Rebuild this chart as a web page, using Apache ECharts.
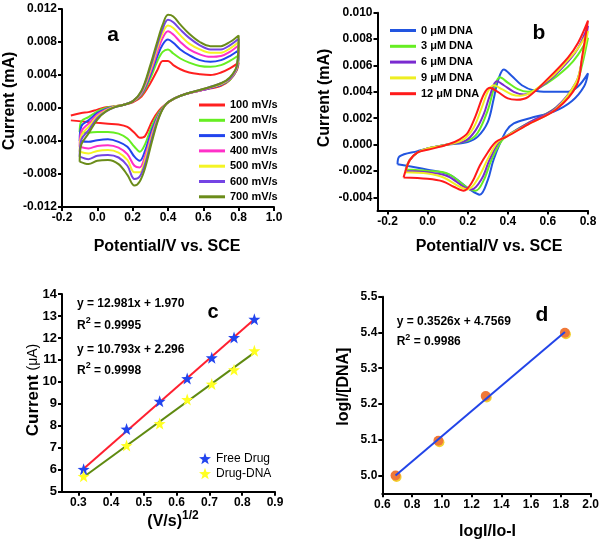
<!DOCTYPE html>
<html>
<head>
<meta charset="utf-8">
<script src="https://cdn.jsdelivr.net/npm/echarts@6/dist/echarts.min.js"></script>
<style>
    html, body {margin: 0; padding: 0; background: #fff;}
    #chart {width: 602px; height: 542px;}
</style>
</head>
<body>
<div id="chart"></div>
<script>
// ---- panel a: scan rates ----
const aNames = ['100 mV/s', '200 mV/s', '300 mV/s', '400 mV/s', '500 mV/s', '600 mV/s', '700 mV/s'];
const aStartV = [-0.15, -0.1, -0.1, -0.1, -0.1, -0.1, -0.1];
const aFwdV = [-0.1, -0.09, -0.05, 0.0, 0.05, 0.1, 0.15, 0.2, 0.25, 0.3, 0.34, 0.37, 0.4, 0.43, 0.47, 0.52, 0.58, 0.64, 0.7, 0.75, 0.8];
const aRevV = [0.8, 0.79, 0.75, 0.7, 0.6, 0.5, 0.44, 0.39, 0.35, 0.31, 0.27, 0.24, 0.21, 0.17, 0.12, 0.06, 0.0, -0.05, -0.1];

const a100Fwd = [-0.0009, -0.0006, -0.0005, -0.0002, 0.0001, 0.0002, 0.0004, 0.0007, 0.0014, 0.0030, 0.0046, 0.0057, 0.0057, 0.0052, 0.0047, 0.0043, 0.0041, 0.0040, 0.0043, 0.0048, 0.0055];
const a200Fwd = [-0.0029, -0.0016, -0.0011, -0.0004, 0.0000, 0.0002, 0.0004, 0.0008, 0.0016, 0.0036, 0.0057, 0.0068, 0.0071, 0.0066, 0.0060, 0.0055, 0.0051, 0.0050, 0.0052, 0.0057, 0.0064];
const a300Fwd = [-0.0040, -0.0022, -0.0015, -0.0006, -0.0001, 0.0002, 0.0004, 0.0008, 0.0017, 0.0040, 0.0063, 0.0077, 0.0083, 0.0079, 0.0071, 0.0064, 0.0058, 0.0056, 0.0058, 0.0063, 0.0070];
const a400Fwd = [-0.0047, -0.0028, -0.0019, -0.0008, -0.0002, 0.0002, 0.0004, 0.0008, 0.0018, 0.0043, 0.0068, 0.0085, 0.0093, 0.0089, 0.0080, 0.0071, 0.0065, 0.0062, 0.0063, 0.0068, 0.0076];
const a500Fwd = [-0.0053, -0.0033, -0.0023, -0.0010, -0.0003, 0.0002, 0.0004, 0.0008, 0.0019, 0.0046, 0.0073, 0.0091, 0.0100, 0.0097, 0.0088, 0.0078, 0.0071, 0.0067, 0.0067, 0.0072, 0.0080];
const a600Fwd = [-0.0059, -0.0038, -0.0027, -0.0012, -0.0004, 0.0001, 0.0004, 0.0008, 0.0020, 0.0049, 0.0077, 0.0096, 0.0107, 0.0104, 0.0095, 0.0085, 0.0076, 0.0071, 0.0071, 0.0076, 0.0084];
const a700Fwd = [-0.0065, -0.0044, -0.0031, -0.0014, -0.0004, 0.0001, 0.0004, 0.0008, 0.0021, 0.0052, 0.0081, 0.0101, 0.0113, 0.0111, 0.0101, 0.0090, 0.0080, 0.0075, 0.0075, 0.0080, 0.0088];

const a100Rev = [0.0055, 0.0046, 0.0034, 0.0027, 0.0022, 0.0017, 0.0012, 0.0005, -0.0003, -0.0016, -0.0034, -0.0036, -0.0030, -0.0023, -0.0020, -0.0019, -0.0018, -0.0017, -0.0015];
const a200Rev = [0.0064, 0.0047, 0.0034, 0.0028, 0.0022, 0.0017, 0.0012, 0.0005, -0.0005, -0.0021, -0.0044, -0.0053, -0.0047, -0.0037, -0.0031, -0.0029, -0.0029, -0.0030, -0.0029];
const a300Rev = [0.0070, 0.0048, 0.0035, 0.0028, 0.0022, 0.0017, 0.0012, 0.0005, -0.0007, -0.0026, -0.0052, -0.0064, -0.0059, -0.0047, -0.0041, -0.0038, -0.0039, -0.0041, -0.0040];
const a400Rev = [0.0076, 0.0049, 0.0035, 0.0029, 0.0022, 0.0017, 0.0012, 0.0005, -0.0008, -0.0030, -0.0058, -0.0072, -0.0070, -0.0056, -0.0048, -0.0045, -0.0046, -0.0049, -0.0047];
const a500Rev = [0.0080, 0.0050, 0.0036, 0.0029, 0.0023, 0.0017, 0.0012, 0.0005, -0.0009, -0.0033, -0.0063, -0.0078, -0.0078, -0.0063, -0.0054, -0.0051, -0.0052, -0.0055, -0.0053];
const a600Rev = [0.0084, 0.0051, 0.0036, 0.0030, 0.0023, 0.0017, 0.0012, 0.0005, -0.0010, -0.0036, -0.0068, -0.0083, -0.0086, -0.0070, -0.0060, -0.0057, -0.0058, -0.0062, -0.0059];
const a700Rev = [0.0088, 0.0052, 0.0037, 0.0030, 0.0023, 0.0017, 0.0012, 0.0005, -0.0011, -0.0040, -0.0073, -0.0089, -0.0094, -0.0081, -0.0068, -0.0063, -0.0064, -0.0068, -0.0065];

const aFwd = [a100Fwd, a200Fwd, a300Fwd, a400Fwd, a500Fwd, a600Fwd, a700Fwd];
const aRev = [a100Rev, a200Rev, a300Rev, a400Rev, a500Rev, a600Rev, a700Rev];
const aXTicks = [-0.2, 0.0, 0.2, 0.4, 0.6, 0.8, 1.0];
const aYTicks = [-0.012, -0.008, -0.004, 0.0, 0.004, 0.008, 0.012];

// ---- panel b: DNA titration, [potential, current] ----
const bNames = ['0 μM DNA', '3 μM DNA', '6 μM DNA', '9 μM DNA', '12 μM DNA'];
const b0 = [[-0.15, -0.0015], [-0.14, -0.0009], [-0.05, -0.0005], [0.0, -0.0003], [0.1, 0.0], [0.2, 0.0002], [0.25, 0.0006], [0.3, 0.0017], [0.33, 0.0035], [0.35, 0.0048], [0.38, 0.0057], [0.42, 0.0052], [0.47, 0.0045], [0.53, 0.0041], [0.6, 0.0040], [0.7, 0.0040], [0.75, 0.0044], [0.8, 0.0054],
    [0.78, 0.0044], [0.72, 0.0033], [0.63, 0.0025], [0.51, 0.0020], [0.43, 0.0016], [0.39, 0.0010], [0.33, -0.0011], [0.3, -0.0027], [0.26, -0.0038], [0.21, -0.0034], [0.11, -0.0023], [0.0, -0.0019], [-0.15, -0.0015]];
const b3 = [[-0.11, -0.0019], [-0.09, -0.0012], [-0.05, -0.0006], [0.0, -0.0003], [0.1, 0.0], [0.2, 0.0003], [0.25, 0.0009], [0.3, 0.0026], [0.33, 0.0042], [0.36, 0.0051], [0.4, 0.0047], [0.45, 0.0042], [0.5, 0.0040], [0.6, 0.0047], [0.7, 0.0059], [0.75, 0.0068], [0.8, 0.0081],
    [0.77, 0.0060], [0.74, 0.0046], [0.64, 0.0028], [0.51, 0.0017], [0.42, 0.0009], [0.37, 0.0003], [0.32, -0.0011], [0.28, -0.0027], [0.24, -0.0035], [0.2, -0.0033], [0.1, -0.0022], [0.0, -0.0020], [-0.11, -0.0019]];
const b6 = [[-0.11, -0.0020], [-0.09, -0.0012], [-0.05, -0.0006], [0.0, -0.0003], [0.1, 0.0], [0.19, 0.0003], [0.24, 0.0011], [0.28, 0.0023], [0.31, 0.0037], [0.345, 0.0048], [0.38, 0.0045], [0.43, 0.0040], [0.48, 0.0038], [0.6, 0.0048], [0.7, 0.0063], [0.75, 0.0073], [0.8, 0.0090],
    [0.77, 0.0064], [0.74, 0.0047], [0.64, 0.0028], [0.51, 0.0017], [0.41, 0.0008], [0.36, 0.0003], [0.31, -0.0011], [0.27, -0.0026], [0.22, -0.0034], [0.18, -0.0032], [0.1, -0.0024], [0.0, -0.0021], [-0.11, -0.0020]];
const b9 = [[-0.11, -0.0021], [-0.09, -0.0012], [-0.05, -0.0006], [0.0, -0.0003], [0.1, 0.0], [0.18, 0.0004], [0.23, 0.0013], [0.27, 0.0028], [0.3, 0.0040], [0.33, 0.0045], [0.37, 0.0042], [0.42, 0.0038], [0.46, 0.0037], [0.6, 0.0049], [0.7, 0.0064], [0.75, 0.0073], [0.8, 0.0086],
    [0.77, 0.0064], [0.74, 0.0047], [0.64, 0.0027], [0.51, 0.0016], [0.40, 0.0007], [0.35, 0.0002], [0.30, -0.0011], [0.25, -0.0026], [0.20, -0.0034], [0.16, -0.0032], [0.08, -0.0025], [0.0, -0.0022], [-0.11, -0.0021]];
const b12 = [[-0.12, -0.0025], [-0.11, -0.0020], [-0.09, -0.0012], [-0.05, -0.0006], [0.0, -0.0004], [0.1, 0.0], [0.16, 0.0004], [0.2, 0.0009], [0.24, 0.0022], [0.28, 0.0038], [0.31, 0.0043], [0.35, 0.0040], [0.4, 0.0035], [0.445, 0.0034], [0.5, 0.0036], [0.6, 0.0050], [0.7, 0.0066], [0.75, 0.0077], [0.8, 0.0094],
    [0.77, 0.0066], [0.744, 0.0045], [0.644, 0.0027], [0.51, 0.0016], [0.395, 0.0006], [0.34, 0.0002], [0.30, -0.0006], [0.26, -0.0016], [0.22, -0.0029], [0.18, -0.0035], [0.13, -0.0032], [0.077, -0.0028], [0.0, -0.0026], [-0.12, -0.0025]];
const bCurves = [b0, b3, b6, b9, b12];
const bXTicks = [-0.2, 0.0, 0.2, 0.4, 0.6, 0.8];
const bYTicks = [-0.004, -0.002, 0.0, 0.002, 0.004, 0.006, 0.008, 0.010];

// ---- panel c: peak current vs sqrt(scan rate) ----
const cSqrtRate = [0.316, 0.447, 0.548, 0.632, 0.707, 0.775, 0.837];
const cFree = [6.02, 7.85, 9.12, 10.15, 11.1, 12.02, 12.85];
const cDna = [5.7, 7.1, 8.1, 9.2, 9.9, 10.55, 11.42];
const cFreeFit = [[0.316, 6.05], [0.837, 12.85]];
const cDnaFit = [[0.316, 5.67], [0.837, 11.33]];
const cXTicks = [0.3, 0.4, 0.5, 0.6, 0.7, 0.8, 0.9];
const cYTicks = [5, 6, 7, 8, 9, 10, 11, 12, 13, 14];

// ---- panel d: binding plot ----
const dX = [0.689, 0.977, 1.295, 1.827];
const dY = [5.0, 5.097, 5.222, 5.399];
const dFit = [[0.689, 5.0], [1.827, 5.401]];
const dXTicks = [0.6, 0.8, 1.0, 1.2, 1.4, 1.6, 1.8, 2.0];
const dYTicks = [5.0, 5.1, 5.2, 5.3, 5.4, 5.5];

const FONT = '"Liberation Sans", Arial, sans-serif';
const aColors = ['#ff2020', '#66ee22', '#2244ee', '#ff30c8', '#f4f424', '#7444e4', '#6b8c1a'];
const bColors = ['#2255e0', '#66ee22', '#7a2ad0', '#eeee22', '#ff1a1a'];
const STAR = 'path://M0,-10L2.35,-3.24L9.51,-3.09L3.8,1.24L5.88,8.09L0,4L-5.88,8.09L-3.8,1.24L-9.51,-3.09L-2.35,-3.24Z';

function fmt(digits) {
    return v => (Math.abs(v) < 1e-9 ? 0 : v).toFixed(digits);
}

function axis(gridIndex, min, max, ticks, digits, fontSize) {
    return {
        type: 'value',
        gridIndex,
        min,
        max,
        axisLine: {onZero: false, lineStyle: {color: '#000', width: 2}},
        axisTick: {customValues: ticks, length: 4, lineStyle: {color: '#000', width: 2}},
        axisLabel: {
            customValues: ticks,
            formatter: fmt(digits),
            color: '#000',
            fontWeight: 'bold',
            fontFamily: FONT,
            fontSize: fontSize || 12,
            margin: 5,
        },
        splitLine: {show: false},
    };
}

function text(x, y, str, opts = {}) {
    return {
        type: 'text',
        x,
        y,
        rotation: opts.rotate ? Math.PI / 2 : 0,
        style: {
            text: str,
            fill: '#000',
            font: opts.font || `bold 16px ${FONT}`,
            align: opts.align || 'center',
            textAlign: opts.align || 'center',
            verticalAlign: 'middle',
            textVerticalAlign: 'middle',
            rich: opts.rich,
        },
    };
}

// superscripts: a small token lifted by bottom padding
const supRich = {
    t: {fontFamily: FONT, fontWeight: 'bold', fontSize: 12, fill: '#000', verticalAlign: 'bottom'},
    s: {fontFamily: FONT, fontWeight: 'bold', fontSize: 9, fill: '#000', verticalAlign: 'bottom', padding: [0, 0, 6, 0]},
};

const chart = echarts.init(document.getElementById('chart'), null, {renderer: 'canvas'});

const series = [];
aNames.forEach((name, k) => {
    const data = aFwdV.map((v, i) => [i === 0 ? aStartV[k] : v, aFwd[k][i]])
        .concat(aRevV.map((v, i) => [i === aRevV.length - 1 ? aStartV[k] : v, aRev[k][i]]));
    series.push({
        type: 'line', name, xAxisIndex: 0, yAxisIndex: 0, data,
        smooth: 0.35, showSymbol: false, symbol: 'none',
        lineStyle: {color: aColors[k], width: 2}, itemStyle: {color: aColors[k]},
    });
});
bNames.forEach((name, k) => {
    series.push({
        type: 'line', name, xAxisIndex: 1, yAxisIndex: 1, data: bCurves[k],
        smooth: 0.35, showSymbol: false, symbol: 'none',
        lineStyle: {color: bColors[k], width: 2}, itemStyle: {color: bColors[k]},
    });
});
series.push(
    {type: 'line', xAxisIndex: 2, yAxisIndex: 2, data: cFreeFit, symbol: 'none',
        lineStyle: {color: '#ff2030', width: 2}},
    {type: 'line', xAxisIndex: 2, yAxisIndex: 2, data: cDnaFit, symbol: 'none',
        lineStyle: {color: '#5f8a10', width: 2}},
    {type: 'scatter', name: 'Free Drug', xAxisIndex: 2, yAxisIndex: 2, symbol: STAR, symbolSize: 12,
        data: cSqrtRate.map((x, i) => [x, cFree[i]]), itemStyle: {color: '#2244ee', opacity: 1}, z: 5},
    {type: 'scatter', name: 'Drug-DNA', xAxisIndex: 2, yAxisIndex: 2, symbol: STAR, symbolSize: 12,
        data: cSqrtRate.map((x, i) => [x, cDna[i]]), itemStyle: {color: '#ffff22', opacity: 1}, z: 5},
    {type: 'scatter', xAxisIndex: 3, yAxisIndex: 3, symbol: 'circle', symbolSize: 10, symbolOffset: [1, 1.5],
        data: dX.map((x, i) => [x, dY[i]]), itemStyle: {color: '#f4d030', opacity: 1}, z: 3},
    {type: 'scatter', xAxisIndex: 3, yAxisIndex: 3, symbol: 'circle', symbolSize: 10,
        data: dX.map((x, i) => [x, dY[i]]), itemStyle: {color: '#f07838', opacity: 1}, z: 4},
    {type: 'line', xAxisIndex: 3, yAxisIndex: 3, data: dFit, symbol: 'none',
        lineStyle: {color: '#2244e8', width: 2}, z: 5},
);

chart.setOption({
    animation: false,
    backgroundColor: '#fff',
    textStyle: {fontFamily: FONT},
    grid: [
        {left: 62, top: 9, width: 212, height: 198},
        {left: 377.5, top: 12.7, width: 210.5, height: 197.8},
        {left: 62, top: 294, width: 213, height: 197.7},
        {left: 382.3, top: 296.7, width: 210.4, height: 196.6},
    ],
    xAxis: [
        axis(0, -0.2, 1.0, aXTicks, 1),
        axis(1, -0.25, 0.8, bXTicks, 1),
        axis(2, 0.25, 0.9, cXTicks, 1),
        axis(3, 0.6, 2.0, dXTicks, 1),
    ],
    yAxis: [
        axis(0, -0.012, 0.012, aYTicks, 3),
        axis(1, -0.005, 0.010, bYTicks, 3),
        axis(2, 5, 14, cYTicks, 0, 13),
        axis(3, 4.95, 5.5, dYTicks, 1),
    ],
    legend: [
        {
            data: aNames, orient: 'vertical', left: 194, top: 94,
            icon: 'rect', itemWidth: 26, itemHeight: 3, itemGap: 3.3,
            textStyle: {fontFamily: FONT, fontWeight: 'bold', fontSize: 11, lineHeight: 12, color: '#000'},
        },
        {
            data: bNames, orient: 'vertical', left: 385, top: 19.5,
            icon: 'rect', itemWidth: 26, itemHeight: 3, itemGap: 3.8,
            textStyle: {fontFamily: FONT, fontWeight: 'bold', fontSize: 11, lineHeight: 12, color: '#000'},
        },
        {
            data: ['Free Drug', 'Drug-DNA'], orient: 'vertical', left: 194, top: 446.5,
            icon: STAR, itemWidth: 12, itemHeight: 12, itemGap: 1,
            textStyle: {fontFamily: FONT, fontSize: 12, lineHeight: 14, color: '#000'},
        },
    ],
    graphic: {elements: [
        text(113, 35, 'a', {font: `bold 21px ${FONT}`}),
        text(539, 33, 'b', {font: `bold 21px ${FONT}`}),
        text(213, 312, 'c', {font: `bold 20px ${FONT}`}),
        text(542, 315, 'd', {font: `bold 21px ${FONT}`}),
        text(167, 247, 'Potential/V vs. SCE'),
        text(10, 101, 'Current (mA)', {rotate: true}),
        text(489, 247, 'Potential/V vs. SCE'),
        text(325, 98, 'Current (mA)', {rotate: true}),
        text(173, 520, '{t|(V/s)}{s|1/2}', {rich: {
            t: {fontFamily: FONT, fontWeight: 'bold', fontSize: 16, fill: '#000', verticalAlign: 'bottom'},
            s: {fontFamily: FONT, fontWeight: 'bold', fontSize: 12, fill: '#000', verticalAlign: 'bottom', padding: [0, 0, 8, 0]},
        }}),
        text(33, 390, '{b|Current} {n|(μA)}', {rotate: true, rich: {
            b: {fontFamily: FONT, fontWeight: 'bold', fontSize: 17, fill: '#000'},
            n: {fontFamily: FONT, fontSize: 14, fill: '#000'},
        }}),
        text(487.5, 531.5, 'logI/Io-I'),
        text(343.3, 386.7, 'logI/[DNA]', {rotate: true}),
        text(77, 304, '{t|y = 12.981x + 1.970}', {align: 'left', rich: supRich}),
        text(77, 324, '{t|R}{s|2}{t| = 0.9995}', {align: 'left', rich: supRich}),
        text(77, 350, '{t|y = 10.793x + 2.296}', {align: 'left', rich: supRich}),
        text(77, 369, '{t|R}{s|2}{t| = 0.9998}', {align: 'left', rich: supRich}),
        text(396.7, 321.7, '{t|y = 0.3526x + 4.7569}', {align: 'left', rich: supRich}),
        text(396.7, 340.5, '{t|R}{s|2}{t| = 0.9986}', {align: 'left', rich: supRich}),
    ]},
    series,
});
</script>
</body>
</html>
